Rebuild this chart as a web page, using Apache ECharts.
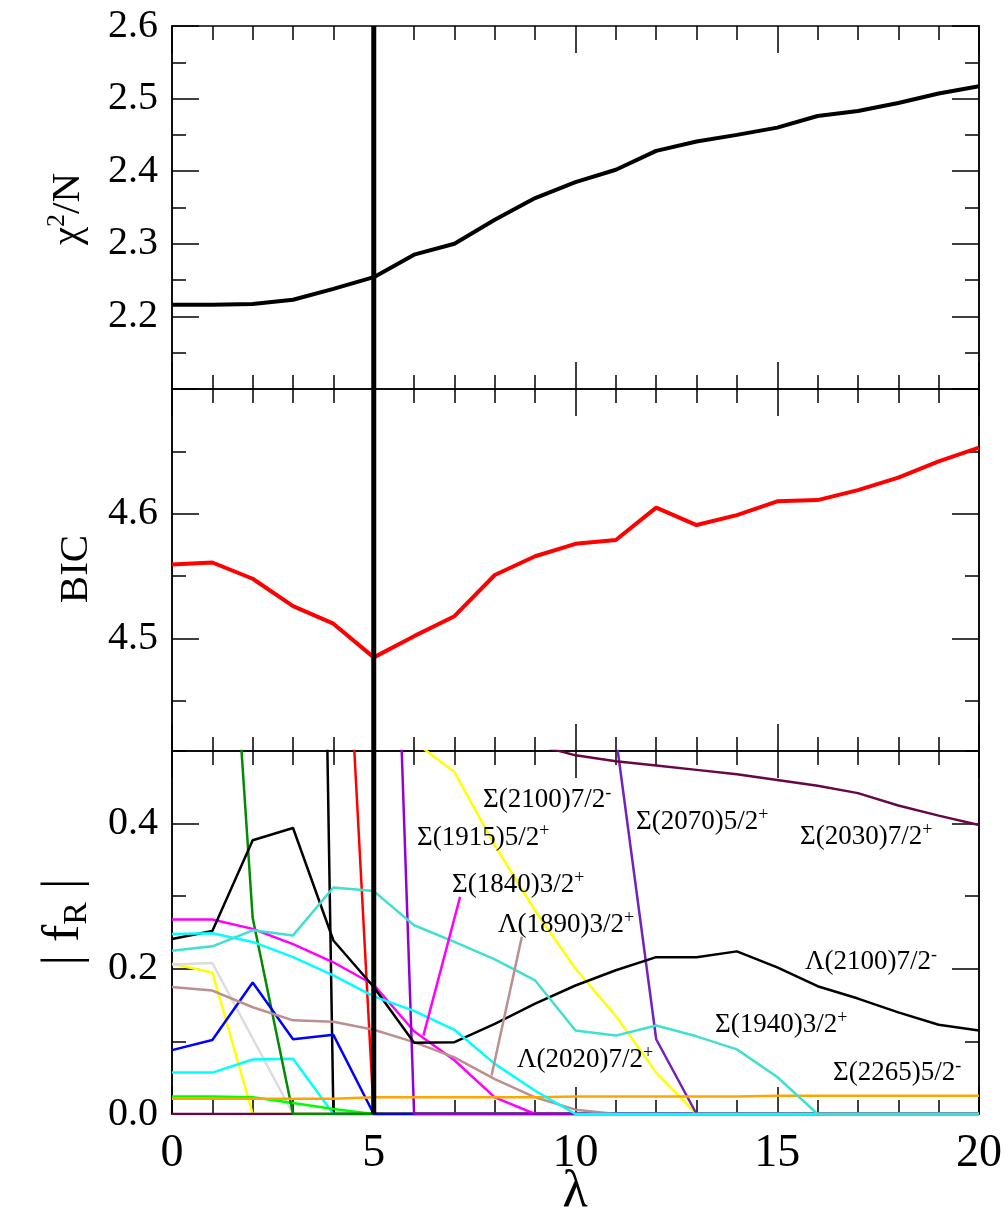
<!DOCTYPE html>
<html><head><meta charset="utf-8">
<script src="https://cdn.jsdelivr.net/npm/echarts@6/dist/echarts.min.js"></script>
<style>html,body{margin:0;padding:0;background:#fff}#c{width:1005px;height:1212px}</style>
</head><body><div id="c"></div>
<script>
// ---------------- data ----------------
const lambda = [0,1,2,3,4,5,6,7,8,9,10,11,12,13,14,15,16,17,18,19,20];
const selectedLambda = 5;
const chi2N = [2.216,2.216,2.217,2.223,2.238,2.254,2.285,2.300,2.333,2.363,2.385,2.402,2.428,2.441,2.450,2.460,2.476,2.483,2.494,2.507,2.517];
const bic   = [4.5595,4.561,4.548,4.526,4.512,4.485,4.502,4.518,4.551,4.566,4.576,4.579,4.605,4.591,4.599,4.610,4.611,4.619,4.629,4.642,4.653];
const N = null;
// |f_R| paths (null = above the plotted range, not readable)
const fYellowA   = [0.207,0.195,0,0,0,0,0,0,0,0,0,0,0,0,0,0,0,0,0,0,0];
const fGrey      = [0.206,0.208,0.104,0,0,0,0,0,0,0,0,0,0,0,0,0,0,0,0,0,0];
const fBlackThin = [N,N,N,3.36,0,0,0,0,0,0,0,0,0,0,0,0,0,0,0,0,0];
const fCyanLow   = [0.057,0.057,0.075,0.076,0,0,0,0,0,0,0,0,0,0,0,0,0,0,0,0,0];
const fGreen     = [0.024,0.024,0.023,0.015,0.007,0,0,0,0,0,0,0,0,0,0,0,0,0,0,0,0];
const fMaroonZero= [0,0,0,0,0,0,0,0,0,0,0,0,0,0,0,0,0,0,0,0,0];
const fGreen4    = [N,1.10,0.27,0,0,0,0,0,0,0,0,0,0,0,0,0,0,0,0,0,0];
const fRed       = [N,N,N,N,1.04,0,0,0,0,0,0,0,0,0,0,0,0,0,0,0,0];
const fBlue      = [0.088,0.102,0.181,0.103,0.109,0,0,0,0,0,0,0,0,0,0,0,0,0,0,0,0];
const fMagenta   = [0.268,0.268,0.255,0.234,0.209,0.178,0.114,0.074,0.023,0,0,0,0,0,0,0,0,0,0,0,0];
const fBrown     = [0.175,0.170,0.147,0.129,0.127,0.116,0.099,0.078,0.048,0.023,0.006,0,0,0,0,0,0,0,0,0,0];
const fViolet    = [N,N,N,N,N,1.63,0,0,0,0,0,0,0,0,0,0,0,0,0,0,0];
const fS2100     = [N,N,N,N,N,N,0.513,0.471,0.370,0.280,0.200,0.135,0.057,0,0,0,0,0,0,0,0];
const fS2070     = [N,N,N,N,N,N,N,N,N,N,N,0.52,0.103,0,0,0,0,0,0,0,0];
const fL2100     = [0.241,0.252,0.377,0.394,0.239,0.175,0.098,0.099,0.124,0.152,0.177,0.198,0.216,0.216,0.224,0.202,0.176,0.159,0.140,0.123,0.115];
const fS2030     = [N,N,N,N,N,N,N,N,N,0.509,0.494,0.486,0.480,0.474,0.468,0.460,0.452,0.442,0.425,0.411,0.398];
const fS2265     = [0.021,0.021,0.021,0.021,0.021,0.023,0.023,0.023,0.023,0.023,0.024,0.024,0.024,0.024,0.024,0.025,0.025,0.025,0.025,0.025,0.025];
const fCyanUp    = [0.248,0.249,0.237,0.216,0.191,0.162,0.142,0.116,0.069,0.032,0,0,0,0,0,0,0,0,0,0,0];
const fS1940     = [0.225,0.231,0.253,0.246,0.312,0.307,0.260,0.237,0.213,0.184,0.115,0.108,0.122,0.107,0.089,0.051,0,0,0,0,0];
// label pointer segments [lambda, |f_R|]
const ptrS1840 = [[7.14,0.299],[6.23,0.108]];
const ptrL1890 = [[8.67,0.244],[7.92,0.053]];
// axis ticks
const yRanges = [[2.1,2.6],[4.41,4.7],[0,0.5]];
const yMajor  = [[2.1,2.2,2.3,2.4,2.5,2.6],[4.5,4.6,4.7],[0,0.2,0.4]];
const yLabels = [[2.2,2.3,2.4,2.5,2.6],[4.5,4.6],[0,0.2,0.4]];
const yMinor  = [[2.15,2.25,2.35,2.45,2.55],[4.45,4.55,4.65],[0.1,0.3,0.5]];

// ---------------- chart ----------------
const FONT = 'Liberation Serif';
const chart = echarts.init(document.getElementById('c'), null, {renderer:'canvas'});
const L = 172, W = 807;
const grid = [
  {left:L, width:W, top:26,  height:363},
  {left:L, width:W, top:389, height:362},
  {left:L, width:W, top:751, height:363}
];
const lineCol = '#000';
function xAx(g, pos, labels){
  return {type:'value', gridIndex:g, position:pos, min:0, max:20, interval:5,
    axisLine:{show:true, onZero:false, lineStyle:{color:lineCol, width:1.5}},
    axisTick:{show:true, inside:true, length:27, lineStyle:{color:lineCol, width:1.5}},
    minorTick:{show:true, splitNumber:5, length:14, lineStyle:{color:lineCol, width:1.5}},
    splitLine:{show:false}, minorSplitLine:{show:false},
    axisLabel:{show:labels, fontFamily:FONT, fontSize:46, color:'#000', margin:17}
  };
}
function yAx(g, pos, ticks, len, labels){
  return {type:'value', gridIndex:g, position:pos, min:yRanges[g][0], max:yRanges[g][1],
    axisLine:{show:true, onZero:false, lineStyle:{color:lineCol, width:1.5}},
    axisTick:{show:true, inside:true, length:len, customValues:ticks, lineStyle:{color:lineCol, width:1.5}},
    splitLine:{show:false},
    axisLabel:{show:!!labels, customValues:labels||[], fontFamily:FONT, fontSize:40, color:'#000', margin:14,
      formatter:v=>Number(v).toFixed(1)}
  };
}
const xAxis = [], yAxis = [];
for (let g=0; g<3; g++){
  xAxis.push(xAx(g,'bottom', g===2));
  xAxis.push(xAx(g,'top', false));
  yAxis.push(yAx(g,'left', yMajor[g], 27, yLabels[g]));   // index 4g
  yAxis.push(yAx(g,'left', yMinor[g], 14, null));         // 4g+1
  yAxis.push(yAx(g,'right', yMajor[g], 27, null));        // 4g+2
  yAxis.push(yAx(g,'right', yMinor[g], 14, null));        // 4g+3
}
const pairs = arr => lambda.map((x,i)=>[x, arr[i]]);
const series = [];
function addLine(g, arr, color, width, z){
  series.push({type:'line', xAxisIndex:2*g, yAxisIndex:4*g, data:pairs(arr), symbol:'none',
    lineStyle:{color, width}, itemStyle:{color}, z:z||2, animation:false, silent:true});
}
addLine(0, chi2N, '#000', 4);
addLine(1, bic, '#ff0000', 4);
const fSets = [
  [fYellowA,'#ffff00'],[fGrey,'#dcdcdc'],[fBlackThin,'#000000'],[fCyanLow,'#00ffff'],[fGreen,'#00ff00'],
  [fMaroonZero,'#670748'],[fGreen4,'#008b00'],[fRed,'#ff0000'],[fBlue,'#0000ff'],[fMagenta,'#ff00ff'],
  [fBrown,'#bc8f8f'],[fViolet,'#9400d3'],[fS2100,'#ffff00'],[fS2070,'#7221bc'],[fL2100,'#000000'],
  [fS2030,'#670748'],[fS2265,'#ffa500'],[fCyanUp,'#00ffff'],[fS1940,'#40e0d0']
];
fSets.forEach(([arr,c])=>addLine(2, arr, c, 2.5));
series.push({type:'line', xAxisIndex:4, yAxisIndex:8, data:ptrS1840, symbol:'none', lineStyle:{color:'#ff00ff', width:2.5}, animation:false});
series.push({type:'line', xAxisIndex:4, yAxisIndex:8, data:ptrL1890, symbol:'none', lineStyle:{color:'#bc8f8f', width:2.5}, animation:false});
// selected lambda marker in every panel
for (let g=0; g<3; g++){
  series.push({type:'line', xAxisIndex:2*g, yAxisIndex:4*g,
    data:[[selectedLambda, yRanges[g][0]],[selectedLambda, yRanges[g][1]]],
    symbol:'none', lineStyle:{color:'#000', width:5}, z:10, animation:false});
}

const rich = {
  b:{fontFamily:FONT, fontSize:27, color:'#000', lineHeight:32},
  s:{fontFamily:FONT, fontSize:18, color:'#000', verticalAlign:'top', lineHeight:32}
};
function ann(x, y, main, sup){
  return {type:'text', left:x, top:y-16, z:20, silent:true,
    style:{text:'{b|'+main+'}{s|'+sup+'}', rich, fill:'#000'}};
}
const labels = [
  [483, 800, 'Σ(2100)7/2', '-'],
  [417, 838, 'Σ(1915)5/2', '+'],
  [452, 885, 'Σ(1840)3/2', '+'],
  [498, 925, 'Λ(1890)3/2', '+'],
  [517, 1060,'Λ(2020)7/2', '+'],
  [636, 822, 'Σ(2070)5/2', '+'],
  [800, 837, 'Σ(2030)7/2', '+'],
  [805, 962, 'Λ(2100)7/2', '-'],
  [715, 1025,'Σ(1940)3/2', '+'],
  [833, 1073,'Σ(2265)5/2', '-']
];
const graphic = labels.map(l=>ann(l[0],l[1],l[2],l[3]));
function ytitle(cx, cy, text, richDef){
  return {type:'text', x:cx, y:cy, rotation:Math.PI/2, z:20, silent:true,
    style:{text, rich:richDef, align:'center', verticalAlign:'middle', fill:'#000'}};
}
graphic.push(ytitle(68, 209, '{b|χ}{s|2}{b|/N}', {
  b:{fontFamily:FONT, fontSize:41, lineHeight:48}, s:{fontFamily:FONT, fontSize:26, verticalAlign:'top', lineHeight:48}}));
graphic.push(ytitle(76, 569, '{b|BIC}', {b:{fontFamily:FONT, fontSize:41}}));
graphic.push(ytitle(64, 922, '{b|| f}{r|R}{b| |}', {
  b:{fontFamily:FONT, fontSize:52, lineHeight:60}, r:{fontFamily:FONT, fontSize:34, verticalAlign:'bottom', lineHeight:60}}));
graphic.push({type:'text', x:575, y:1192, z:20, silent:true,
  style:{text:'λ', fontFamily:FONT, fontSize:52, fill:'#000', align:'center', verticalAlign:'middle'}});

chart.setOption({animation:false, backgroundColor:'#fff', grid, xAxis, yAxis, series, graphic});
</script></body></html>
